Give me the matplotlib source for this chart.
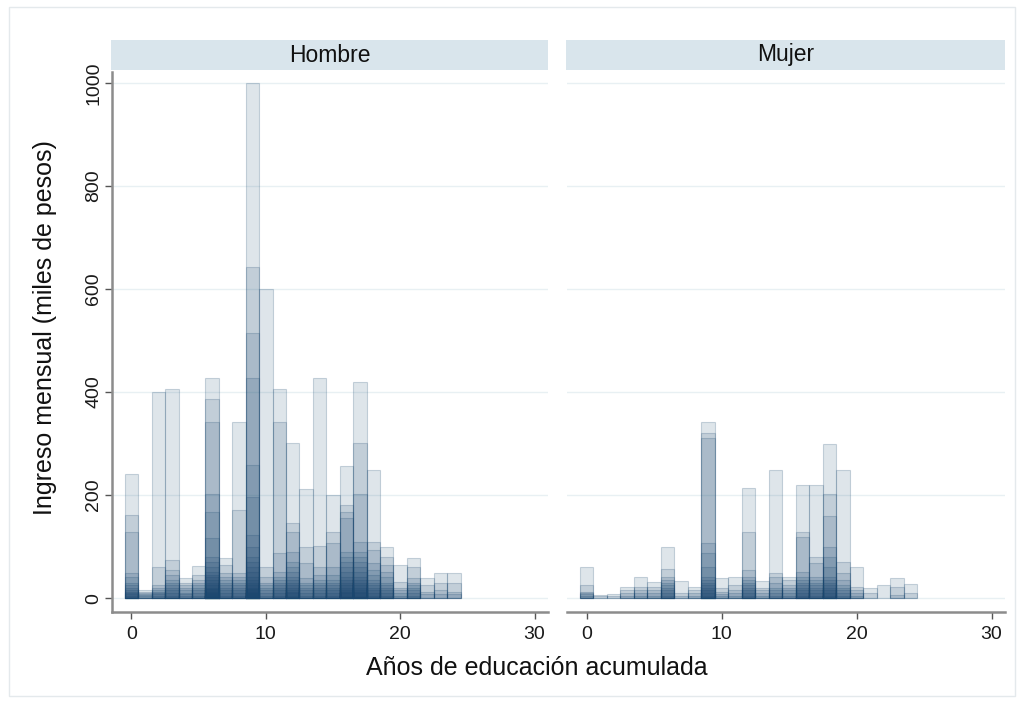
import matplotlib.pyplot as plt
from matplotlib.colors import to_rgba
from matplotlib.patches import Rectangle

plt.rcParams['font.family'] = ['Liberation Sans', 'DejaVu Sans']

# Ingreso mensual (miles de pesos) por años de educación, una barra por observación
hombre_anios = list(range(25))
hombre_ingresos = [
    [240, 161, 128, 49, 40, 30, 25, 20, 15, 12, 10, 8, 5],
    [15, 12, 10, 8, 6, 5],
    [400, 60, 25, 20, 15, 12, 10, 8, 5],
    [406, 74, 54, 45, 35, 30, 25, 20, 15, 10, 5],
    [39, 30, 25, 20, 15, 10, 8, 5],
    [62, 45, 35, 30, 25, 20, 15, 10, 5],
    [427, 386, 342, 202, 167, 116, 80, 70, 60, 50, 45, 40, 35, 30, 25, 20, 18, 15, 12, 10, 8, 5, 3],
    [78, 64, 49, 40, 35, 30, 25, 20, 15, 10, 5],
    [342, 171, 49, 40, 35, 30, 25, 20, 15, 10, 5],
    [1000, 643, 515, 427, 258, 196, 122, 100, 80, 70, 60, 50, 41, 35, 30, 25, 20, 18, 15, 12, 10, 8, 5, 3],
    [600, 60, 41, 30, 25, 20, 15, 10, 5],
    [406, 342, 87, 50, 40, 35, 30, 25, 20, 15, 10, 5],
    [301, 146, 128, 89, 70, 60, 50, 40, 35, 30, 25, 20, 15, 12, 10, 5],
    [212, 99, 68, 39, 30, 25, 20, 15, 10, 5],
    [427, 101, 60, 45, 35, 30, 25, 20, 15, 10, 5],
    [200, 128, 107, 60, 45, 35, 30, 25, 20, 15, 10, 5],
    [256, 180, 167, 155, 89, 80, 70, 60, 50, 40, 35, 30, 25, 20, 15, 12, 10, 5],
    [419, 301, 202, 109, 89, 80, 70, 60, 50, 40, 35, 30, 25, 20, 15, 12, 10, 5],
    [249, 109, 93, 68, 55, 45, 35, 30, 25, 20, 15, 10, 5],
    [99, 80, 64, 50, 40, 30, 25, 20, 15, 10, 5],
    [64, 31, 20, 15, 10, 5],
    [78, 60, 39, 30, 25, 20, 15, 10, 5],
    [39, 25, 12, 8],
    [49, 29, 15, 8],
    [49, 29, 12, 8],
]

mujer_anios = list(range(25))
mujer_ingresos = [
    [60, 25, 12, 10, 8, 5],
    [6, 4],
    [8, 5],
    [21, 15, 10, 5],
    [41, 21, 15, 10, 5],
    [31, 21, 15, 10, 5],
    [99, 56, 41, 35, 30, 25, 20, 15, 10, 5],
    [33, 10, 5],
    [21, 15, 10, 5],
    [342, 320, 311, 107, 87, 60, 41, 35, 30, 25, 20, 15, 10, 5],
    [39, 19, 12, 8, 5],
    [41, 25, 15, 10, 5],
    [214, 128, 54, 41, 35, 30, 25, 20, 15, 10, 5],
    [33, 20, 15, 10, 5],
    [249, 49, 41, 30, 20, 15, 10, 5],
    [41, 35, 25, 20, 15, 10, 5],
    [219, 128, 118, 50, 41, 35, 30, 25, 20, 15, 10, 5],
    [219, 80, 68, 41, 35, 30, 25, 20, 15, 10, 5],
    [299, 202, 159, 99, 80, 60, 41, 35, 30, 25, 20, 15, 10, 5],
    [249, 70, 49, 35, 25, 20, 15, 10, 5],
    [60, 21, 15, 10, 5],
    [19, 10],
    [25],
    [39, 21, 6],
    [27, 10],
]

paneles = ["Hombre", "Mujer"]
y_ticks = [0, 200, 400, 600, 800, 1000]
x_ticks = [0, 10, 20, 30]

navy = "#1a476f"
W, H = 1024, 703

fig = plt.figure(figsize=(W / 100, H / 100), dpi=100)

# marco exterior
fig.patches.append(Rectangle((9 / W, 1 - 696 / H), 1006 / W, 689 / H, transform=fig.transFigure,
                             fill=False, edgecolor="#e4e9ec", linewidth=1))

lefts = [112, 567]
widths = [436, 438]
datos = [(hombre_anios, hombre_ingresos), (mujer_anios, mujer_ingresos)]

for i, nombre in enumerate(paneles):
    ax = fig.add_axes([lefts[i] / W, 1 - 612 / H, widths[i] / W, 540 / H])
    anios, ingresos = datos[i]
    xs, hs = [], []
    for a, lista in zip(anios, ingresos):
        for v in lista:
            xs.append(a)
            hs.append(v)
    ax.bar(xs, hs, width=1.0, color=to_rgba(navy, 0.14),
           edgecolor=to_rgba(navy, 0.22), linewidth=0.8)

    ax.set_xlim(-1.45, 31)
    ax.set_ylim(-27, 1021)
    ax.set_yticks(y_ticks)
    ax.set_xticks(x_ticks)
    ax.yaxis.grid(True, color="#e8f0f3", linewidth=1)
    ax.set_axisbelow(True)

    for s in ["top", "right"]:
        ax.spines[s].set_visible(False)
    ax.spines["bottom"].set_color("#8c8c8c")
    ax.spines["bottom"].set_linewidth(1.8)
    ax.spines["left"].set_color("#8c8c8c")
    ax.spines["left"].set_linewidth(1.8)

    ax.tick_params(axis="x", length=5, width=1, color="#555555", labelsize=14, pad=5,
                   labelcolor="#1a1a1a")
    if i == 0:
        ax.tick_params(axis="y", length=5, width=1, color="#555555", labelsize=14, pad=2,
                       labelrotation=90, labelcolor="#1a1a1a")
        for lab in ax.get_yticklabels():
            lab.set_va("center")
    else:
        ax.spines["left"].set_visible(False)
        ax.tick_params(axis="y", left=False, labelleft=False)

    # franja del panel
    fig.patches.append(Rectangle(((lefts[i] - 1) / W, 1 - 70 / H), (widths[i] + 1) / W, 30 / H,
                                 transform=fig.transFigure, color="#d9e5ec", linewidth=0))
    fig.text((lefts[i] + widths[i] / 2) / W, 1 - 55 / H, nombre, ha="center", va="center",
             fontsize=16.5, color="#111111")

fig.text(537 / W, 1 - 668 / H, "Años de educación acumulada", ha="center", va="center",
         fontsize=18, color="#111111")
fig.text(45 / W, 1 - 328 / H, "Ingreso mensual (miles de pesos)", ha="center", va="center",
         rotation=90, fontsize=18, color="#111111")

fig.savefig("out.png", dpi=100, facecolor="white")
